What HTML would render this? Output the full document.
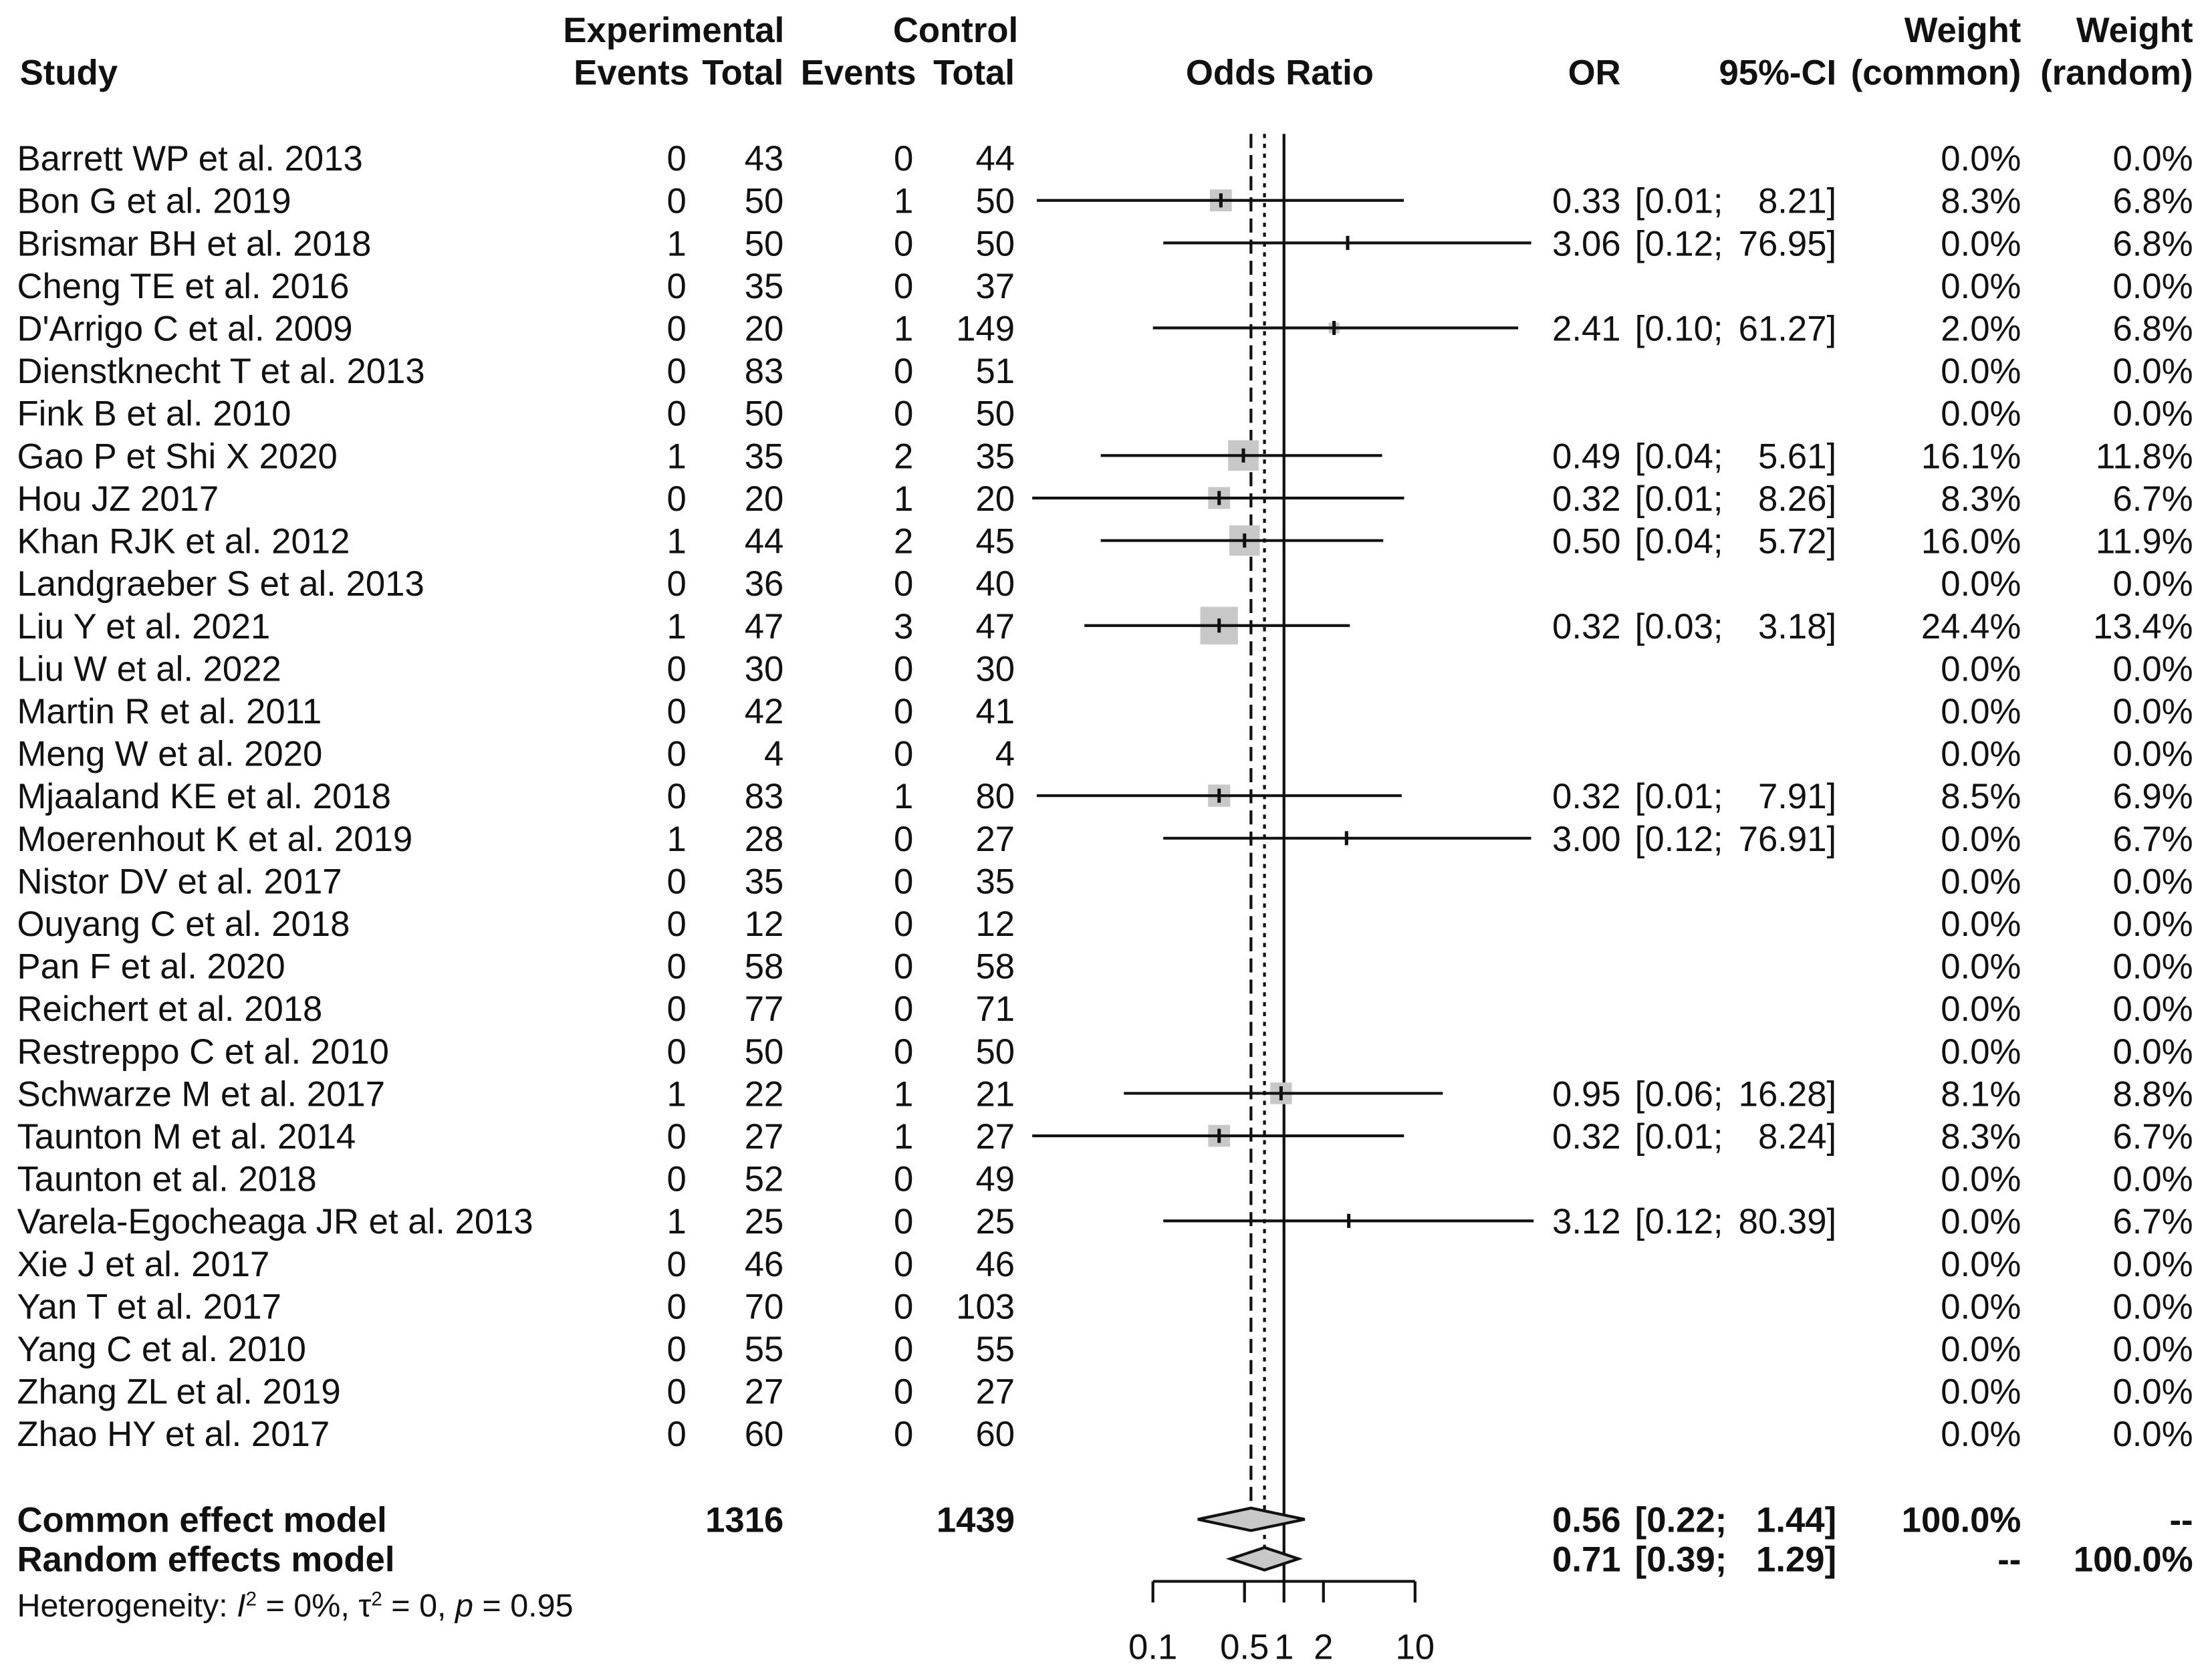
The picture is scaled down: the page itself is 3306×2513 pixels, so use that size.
<!DOCTYPE html>
<html><head><meta charset="utf-8"><style>
html,body{margin:0;padding:0;background:#fff}
svg{display:block}
text{font-family:"Liberation Sans",Arial,sans-serif;font-size:25px;fill:#111}
.b{font-weight:bold}
</style></head><body>
<svg id="plot" width="3306" height="2513" viewBox="0 0 1568 1192" xmlns="http://www.w3.org/2000/svg">
<g id="hdr">
<text class="b" x="478" y="30" text-anchor="middle">Experimental</text>
<text class="b" x="678" y="30" text-anchor="middle">Control</text>
<text class="b" x="14" y="60">Study</text>
<text class="b" x="489" y="60" text-anchor="end">Events</text>
<text class="b" x="556" y="60" text-anchor="end">Total</text>
<text class="b" x="650" y="60" text-anchor="end">Events</text>
<text class="b" x="720" y="60" text-anchor="end">Total</text>
<text class="b" x="908" y="60" text-anchor="middle">Odds Ratio</text>
<text class="b" x="1150" y="60" text-anchor="end">OR</text>
<text class="b" x="1303" y="60" text-anchor="end">95%-CI</text>
<text class="b" x="1434" y="30" text-anchor="end">Weight</text>
<text class="b" x="1434" y="60" text-anchor="end">(common)</text>
<text class="b" x="1556" y="30" text-anchor="end">Weight</text>
<text class="b" x="1556" y="60" text-anchor="end">(random)</text>
</g>
<g id="rows"></g>
<g id="marks"></g>
</svg>
<script>
const studies=["Barrett WP et al. 2013","Bon G et al. 2019","Brismar BH et al. 2018","Cheng TE et al. 2016","D'Arrigo C et al. 2009","Dienstknecht T et al. 2013","Fink B et al.  2010","Gao P et Shi X 2020","Hou JZ 2017","Khan RJK et al. 2012","Landgraeber S et al.  2013","Liu Y et al. 2021","Liu W et al. 2022","Martin R et al. 2011","Meng W et al. 2020","Mjaaland KE et al. 2018","Moerenhout K et al.  2019","Nistor DV et al. 2017","Ouyang C et al. 2018","Pan F et al. 2020","Reichert et al. 2018","Restreppo C et al. 2010","Schwarze M et al. 2017","Taunton M et al. 2014","Taunton et al. 2018","Varela-Egocheaga JR et al.  2013","Xie J et al.  2017","Yan T et al. 2017","Yang C et al. 2010","Zhang ZL et al. 2019","Zhao HY et al. 2017"];
const expEvents=[0,0,1,0,0,0,0,1,0,1,0,1,0,0,0,0,1,0,0,0,0,0,1,0,0,1,0,0,0,0,0];
const expTotal=[43,50,50,35,20,83,50,35,20,44,36,47,30,42,4,83,28,35,12,58,77,50,22,27,52,25,46,70,55,27,60];
const ctrlEvents=[0,1,0,0,1,0,0,2,1,2,0,3,0,0,0,1,0,0,0,0,0,0,1,1,0,0,0,0,0,0,0];
const ctrlTotal=[44,50,50,37,149,51,50,35,20,45,40,47,30,41,4,80,27,35,12,58,71,50,21,27,49,25,46,103,55,27,60];
const orVal=[null,0.33,3.06,null,2.41,null,null,0.49,0.32,0.50,null,0.32,null,null,null,0.32,3.00,null,null,null,null,null,0.95,0.32,null,3.12,null,null,null,null,null];
const ciLow=[null,0.013,0.12,null,0.10,null,null,0.04,0.012,0.04,null,0.03,null,null,null,0.013,0.12,null,null,null,null,null,0.06,0.012,null,0.12,null,null,null,null,null];
const ciLowLbl=[null,"0.01","0.12",null,"0.10",null,null,"0.04","0.01","0.04",null,"0.03",null,null,null,"0.01","0.12",null,null,null,null,null,"0.06","0.01",null,"0.12",null,null,null,null,null];
const ciHigh=[null,8.21,76.95,null,61.27,null,null,5.61,8.26,5.72,null,3.18,null,null,null,7.91,76.91,null,null,null,null,null,16.28,8.24,null,80.39,null,null,null,null,null];
const wCommon=[0,8.3,0,0,2.0,0,0,16.1,8.3,16.0,0,24.4,0,0,0,8.5,0,0,0,0,0,0,8.1,8.3,0,0,0,0,0,0,0];
const wRandom=[0,6.8,6.8,0,6.8,0,0,11.8,6.7,11.9,0,13.4,0,0,0,6.9,6.7,0,0,0,0,0,8.8,6.7,0,6.7,0,0,0,0,0];
const pooledOR=[0.56,0.71];
const pooledLow=[0.22,0.39];
const pooledHigh=[1.44,1.29];
const axisTicks=[0.1,0.5,1,2,10];
const axisLabels=["0.1","0.5","1","2","10"];

const NS="http://www.w3.org/2000/svg";
const rows=document.getElementById('rows'), marks=document.getElementById('marks');
const X1=911, DEC=93;
function xs(v){return X1+DEC*Math.log10(v);}
function ys(i){return 112+i*30.17;}
function mk(tag,attrs,parent){const e=document.createElementNS(NS,tag);for(const k in attrs)e.setAttribute(k,attrs[k]);parent.appendChild(e);return e;}
function txt(x,y,s,anchor,parent,cls){const t=mk('text',{x:x,y:y,'text-anchor':anchor||'start'},parent);if(cls)t.setAttribute('class',cls);t.textContent=s;return t;}
function fmt(v){return v.toFixed(1)+"%";}

const l1=mk('line',{x1:X1,y1:95,x2:X1,y2:1122,stroke:'#111','stroke-width':2},marks);


const l2=mk('line',{x1:xs(pooledOR[0]),y1:95,x2:xs(pooledOR[0]),y2:1070,stroke:'#111','stroke-width':2,'stroke-dasharray':'10,5'},marks);


const l3=mk('line',{x1:xs(pooledOR[1]),y1:95,x2:xs(pooledOR[1]),y2:1098,stroke:'#111','stroke-width':2,'stroke-dasharray':'3,4'},marks);



for(let i=0;i<studies.length;i++){
  const y=ys(i), ty=y+9;
  const g=mk('g',{},rows);
  
  
  txt(12,ty,studies[i],'start',g);
  txt(487,ty,String(expEvents[i]),'end',g);
  txt(556,ty,String(expTotal[i]),'end',g);
  txt(648,ty,String(ctrlEvents[i]),'end',g);
  txt(720,ty,String(ctrlTotal[i]),'end',g);
  txt(1434,ty,fmt(wCommon[i]),'end',g);
  txt(1556,ty,fmt(wRandom[i]),'end',g);
  if(orVal[i]!==null){
    txt(1150,ty,orVal[i].toFixed(2),'end',g);
    txt(1160,ty,'['+ciLowLbl[i]+';','start',g);
    txt(1303,ty,ciHigh[i].toFixed(2)+']','end',g);
    const x0=Math.max(xs(ciLow[i]),730), x1=xs(ciHigh[i]);
    if(wCommon[i]>0){
      const s=5.4*Math.sqrt(wCommon[i]);
      const sq=mk('rect',{x:xs(orVal[i])-s/2,y:y-s/2,width:s,height:s,fill:'#c8c8c8'},marks);
      
      
    }
    const ln=mk('line',{x1:x0,y1:y,x2:x1,y2:y,stroke:'#111','stroke-width':2},marks);
    
    
    const tk=mk('line',{x1:xs(orVal[i]),y1:y-5,x2:xs(orVal[i]),y2:y+5,stroke:'#111','stroke-width':2.4},marks);
    
    
  }
}
const pY=[1078,1106];
const pName=["Common effect model","Random effects model"];
const pWc=["100.0%","--"], pWr=["--","100.0%"];
for(let k=0;k<2;k++){
  const g=mk('g',{},rows);
  
  
  const ty=pY[k]+9;
  txt(12,ty,pName[k],'start',g,'b');
  if(k===0){txt(556,ty,'1316','end',g,'b');txt(720,ty,'1439','end',g,'b');}
  txt(1150,ty,pooledOR[k].toFixed(2),'end',g,'b');
  txt(1160,ty,'['+pooledLow[k].toFixed(2)+';','start',g,'b');
  txt(1303,ty,pooledHigh[k].toFixed(2)+']','end',g,'b');
  txt(1434,ty,pWc[k],'end',g,'b');
  txt(1556,ty,pWr[k],'end',g,'b');
  const a=xs(pooledLow[k]),c=xs(pooledOR[k]),b=xs(pooledHigh[k]),y=pY[k];
  const d=mk('polygon',{points:`${a},${y} ${c},${y-8} ${b},${y} ${c},${y+8}`,fill:'#c8c8c8',stroke:'#111','stroke-width':2},marks);
  
  
}
const h=mk('text',{x:12,y:1147,style:'font-size:23px'},rows);


h.innerHTML='Heterogeneity: <tspan font-style="italic">I</tspan><tspan dy="-8" style="font-size:14px">2</tspan><tspan dy="8"> = 0%, τ</tspan><tspan dy="-8" style="font-size:14px">2</tspan><tspan dy="8"> = 0, </tspan><tspan font-style="italic">p</tspan> = 0.95';
const ax=mk('g',{},marks);


mk('line',{x1:xs(axisTicks[0]),y1:1122,x2:xs(axisTicks[axisTicks.length-1]),y2:1122,stroke:'#111','stroke-width':2},ax);
for(let i=0;i<axisTicks.length;i++){
  const x=xs(axisTicks[i]);
  const t=mk('line',{x1:x,y1:1122,x2:x,y2:1137,stroke:'#111','stroke-width':2},ax);
  
  
  const lb=txt(x,1177,axisLabels[i],'middle',ax);
  
  
}
</script>
</body></html>
